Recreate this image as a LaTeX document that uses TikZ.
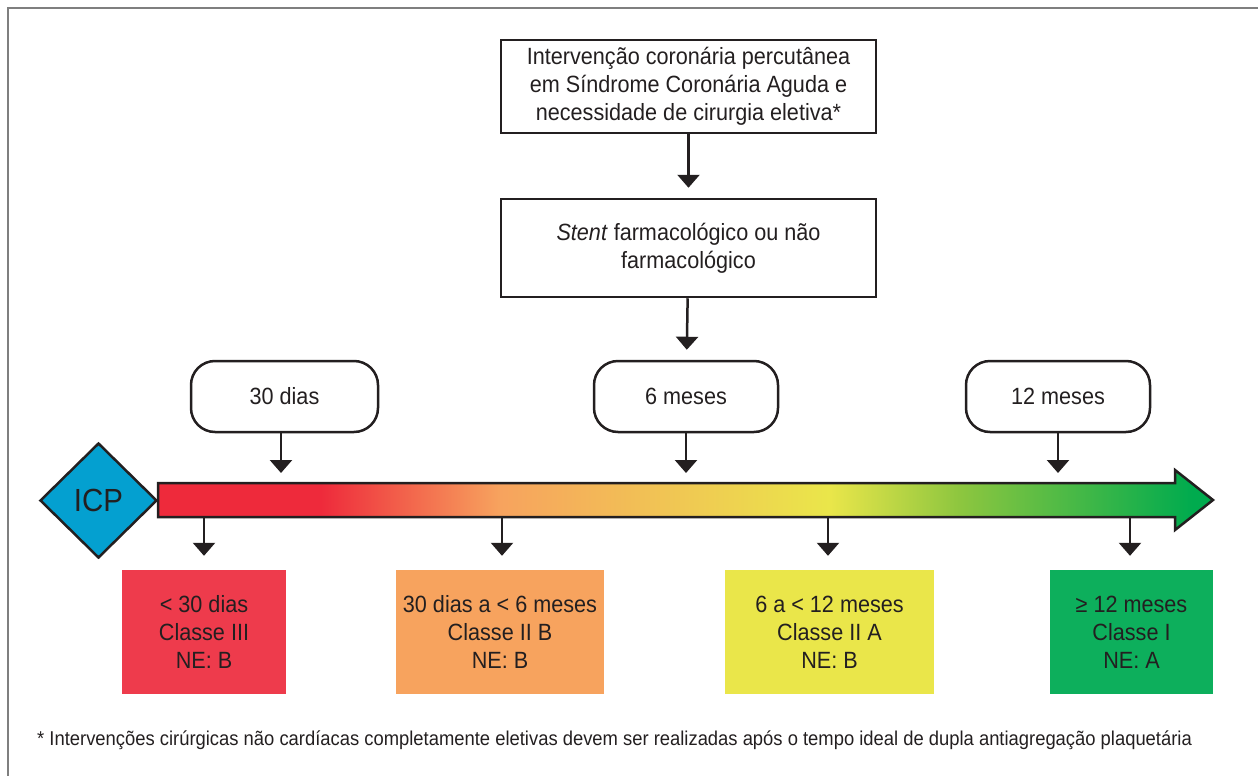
\documentclass[tikz,border=0pt]{standalone}
\usepackage{fontspec}
\setmainfont[FakeStretch=0.92]{Liberation Sans}
\usetikzlibrary{arrows.meta,shapes.geometric}

\definecolor{texto}{HTML}{231F20}
\definecolor{moldura}{HTML}{7F7F7F}
\definecolor{cvermelho}{HTML}{EE2A3B}
\definecolor{claranja}{HTML}{F7A35E}
\definecolor{camarelo}{HTML}{EAE64A}
\definecolor{cverdeclaro}{HTML}{8DC63F}
\definecolor{cverde}{HTML}{00AB4E}
\definecolor{cazul}{HTML}{04A0D0}
\definecolor{fvermelho}{HTML}{EE3B4C}
\definecolor{fverde}{HTML}{0DAF5C}

\pgfdeclarehorizontalshading{linhatempo}{100bp}{color(0bp)=(cvermelho); color(32.7bp)=(cvermelho); color(41.2bp)=(claranja); color(56.8bp)=(camarelo); color(63bp)=(cverdeclaro); color(74bp)=(cverde); color(100bp)=(cverde)}

\tikzset{
  caixa/.style={draw=texto, line width=2.5pt, minimum width=375pt, minimum height=93pt, align=center, text=texto, font=\fontsize{23.5}{28}\selectfont},
  prazo/.style={draw=texto, line width=2.5pt, rounded corners=24pt, minimum width=187pt, minimum height=71pt, text=texto, font=\fontsize{23.5}{28}\selectfont},
  classe/.style={minimum height=124pt, align=center, text=texto, font=\fontsize{23.5}{28}\selectfont},
  seta/.style={draw=texto, line width=2.5pt, -{Triangle[width=22pt,length=13pt]}},
}

\begin{document}
\begin{tikzpicture}[x=1pt,y=-1pt]
  \useasboundingbox (0,0) rectangle (1258,776);

  % moldura
  \draw[moldura, line width=2pt] (8,776) -- (8,8) -- (1258,8);

  % caixas de cima
  \node[caixa] (pci) at (688.5,86.5) {Intervenção coronária percutânea\\em Síndrome Coronária Aguda e\\necessidade de cirurgia eletiva*};
  \node[caixa, minimum height=98pt] (stent) at (688.5,248) {\textit{Stent} farmacológico ou não\\farmacológico};
  \draw[seta, shorten >=10pt] (pci) -- (stent);

  % prazos
  \node[prazo] (d30) at (284.5,396.5) {30 dias};
  \node[prazo, minimum width=184pt] (m6) at (686,396.5) {6 meses};
  \node[prazo, minimum width=184pt] (m12) at (1058,396.5) {12 meses};
  \draw[seta, shorten >=10pt] (stent) -- (m6);

  % seta do tempo
  \coordinate (barra) at (0,483);
  \shade[shading=linhatempo, draw=texto, line width=2.5pt, miter limit=10]
    (158,483) -- (1175,483) -- (1175,470) -- (1213,500) -- (1175,530) -- (1175,517) -- (158,517) -- cycle;
  \node[diamond, draw=texto, fill=cazul, line width=2.5pt, minimum width=117pt, minimum height=115pt, inner sep=0pt, text=texto, font=\fontsize{32}{32}\selectfont] (icp) at (98.5,500.5) {ICP};

  \draw[seta, shorten >=10pt] (d30.south -| 281,0) -- (barra -| 281,0);
  \draw[seta, shorten >=10pt] (m6.south) -- (barra -| m6.south);
  \draw[seta, shorten >=10pt] (m12.south) -- (barra -| m12.south);

  % classes
  \node[classe, fill=fvermelho, minimum width=164pt] (c1) at (204,632) {< 30 dias\\Classe III\\NE: B};
  \node[classe, fill=claranja, minimum width=208pt] (c2) at (500,632) {30 dias a < 6 meses\\Classe II B\\NE: B};
  \node[classe, fill=camarelo, minimum width=209pt] (c3) at (829.5,632) {6 a < 12 meses\\Classe II A\\NE: B};
  \node[classe, fill=fverde, minimum width=163pt] (c4) at (1131.5,632) {≥ 12 meses\\Classe I\\NE: A};

  \coordinate (baixo) at (0,517);
  \draw[seta, shorten >=14pt] (baixo -| 204,0) -- (c1.north -| 204,0);
  \draw[seta, shorten >=14pt] (baixo -| 502,0) -- (c2.north -| 502,0);
  \draw[seta, shorten >=14pt] (baixo -| 828,0) -- (c3.north -| 828,0);
  \draw[seta, shorten >=14pt] (baixo -| 1130,0) -- (c4.north -| 1130,0);

  % nota
  \node[anchor=west, text=texto, inner sep=0pt, font=\fontsize{20}{24}\selectfont] (nota) at (37,740) {* Intervenções cirúrgicas não cardíacas completamente eletivas devem ser realizadas após o tempo ideal de dupla antiagregação plaquetária};
\end{tikzpicture}
\end{document}
